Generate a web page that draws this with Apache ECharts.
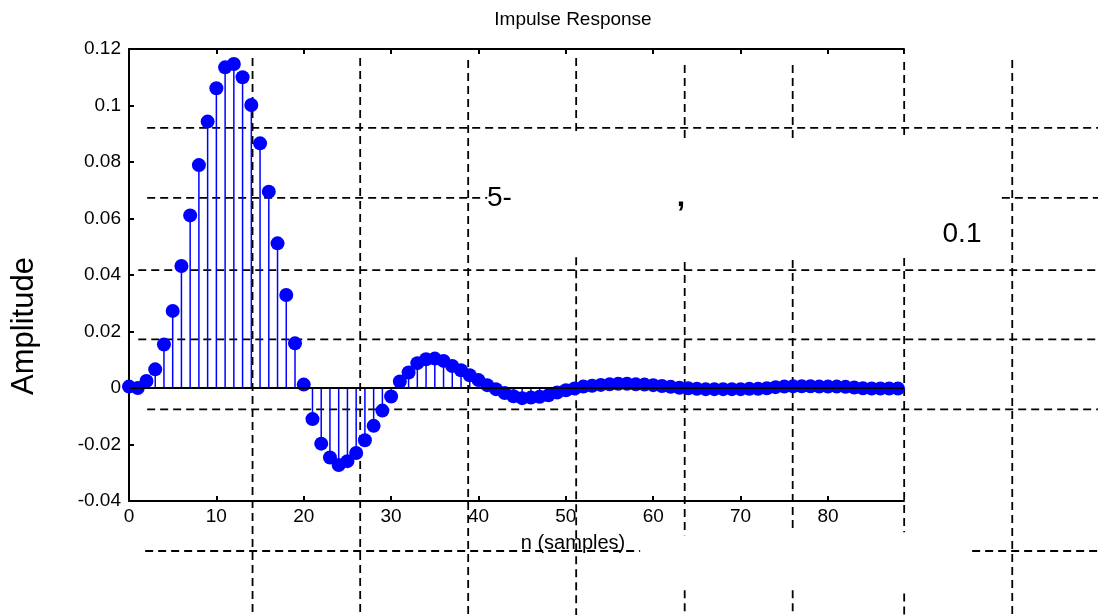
<!DOCTYPE html>
<html>
<head>
<meta charset="utf-8">
<script src="https://cdn.jsdelivr.net/npm/echarts@6/dist/echarts.min.js"></script>
<style>
html, body { margin: 0; padding: 0; background: #fff; }
#main { width: 1098px; height: 615px; }
</style>
</head>
<body>
<div id="main"></div>
<script>
// impulse response samples, n = 0..88
const amplitude = [
  0.0005, 0.0000, 0.0025, 0.0066, 0.0154, 0.0273, 0.0432, 0.0611, 0.0789, 0.0943,
  0.1061, 0.1135, 0.1147, 0.1100, 0.1002, 0.0866, 0.0695, 0.0512, 0.0329, 0.0158,
  0.0012, -0.0110, -0.0197, -0.0246, -0.0273, -0.0259, -0.0230, -0.0185, -0.0134, -0.0080,
  -0.0030, 0.0023, 0.0055, 0.0088, 0.0102, 0.0104, 0.0096, 0.0078, 0.0063, 0.0045,
  0.0028, 0.0010, -0.0004, -0.0018, -0.0029, -0.0036, -0.0034, -0.0031, -0.0026, -0.0016,
  -0.0008, -0.0002, 0.0005, 0.0008, 0.0011, 0.0013, 0.0015, 0.0015, 0.0013, 0.0012,
  0.0010, 0.0007, 0.0004, 0.0001, -0.0001, -0.0003, -0.0004, -0.0004, -0.0004, -0.0004,
  -0.0004, -0.0003, -0.0003, -0.0001, 0.0003, 0.0005, 0.0006, 0.0006, 0.0006, 0.0005,
  0.0005, 0.0005, 0.0004, 0.0002, -0.0001, -0.0002, -0.0002, -0.0002, -0.0002
]
const xTickLabels = ['0', '10', '20', '30', '40', '50', '60', '70', '80']
const yTickLabels = ['-0.04', '-0.02', '0', '0.02', '0.04', '0.06', '0.08', '0.1', '0.12']

// stray dashed grid, in the plot's own units
// vertical: [x, [yFrom, yTo], ...]
const vDashes = [
  [14.14, [0.1168, -0.085]],
  [26.46, [0.1168, -0.085]],
  [38.82, [0.1161, -0.085]],
  [51.18, [0.1168, 0.0895], [0.0463, -0.085]],
  [63.60, [0.1143, 0.0878], [0.0446, -0.0521], [-0.0716, -0.085]],
  [75.96, [0.1143, 0.0885], [0.0453, -0.0511], [-0.0716, -0.085]],
  [88.72, [0.1154, 0.0885], [0.0460, -0.0511], [-0.0727, -0.085]],
  [101.09, [0.1161, -0.085]]
]
// horizontal: [y, [xFrom, xTo], ...]
const hDashes = [
  [0.0921, [2.08, 112]],
  [0.0673, [2.08, 41.0], [99.9, 112]],
  [0.0417, [1.06, 112]],
  [0.0172, [1.06, 112]],
  [-0.0076, [2.08, 112]],
  [-0.0577, [1.85, 58.5], [96.5, 112]]
]

const xMax = 88.7
const yMin = -0.04
const yMax = 0.12
const W = 1098, H = 615
const gLeft = 129, gTop = 49, gW = 775, gH = 452

// an overlay grid over the whole page, scaled like the plot
const xPerPx = xMax / gW
const yPerPx = (yMax - yMin) / gH
const ovXMin = -gLeft * xPerPx
const ovXMax = (W - gLeft) * xPerPx
const ovYMax = yMax + gTop * yPerPx
const ovYMin = yMin - (H - gTop - gH) * yPerPx

const stems = amplitude.map((v, i) => [i, v])

let dashData = []
vDashes.forEach(row => {
  row.slice(1).forEach(seg => {
    dashData.push([row[0], seg[0]], [row[0], seg[1]], [row[0], '-'])
  })
})
hDashes.forEach(row => {
  row.slice(1).forEach(seg => {
    dashData.push([seg[0], row[0]], [seg[1], row[0]], ['-', row[0]])
  })
})

const font = 'Liberation Sans, Arial, sans-serif'
let myChart = echarts.init(document.getElementById('main'))
let option = {
  animation: false,
  backgroundColor: '#fff',
  grid: [
    { left: gLeft, top: gTop, width: gW, height: gH },
    { left: 0, top: 0, width: W, height: H }
  ],
  xAxis: [
    {
      type: 'value', min: 0, max: xMax, interval: 10, position: 'bottom', gridIndex: 0,
      axisLine: { show: true, onZero: false, lineStyle: { color: '#000', width: 2 } },
      axisTick: { show: true, inside: true, length: 5, lineStyle: { color: '#000', width: 2 } },
      axisLabel: {
        color: '#000', fontSize: 19, fontFamily: font, margin: 6, showMaxLabel: false,
        formatter: (v, i) => xTickLabels[i] || ''
      },
      splitLine: { show: false }
    },
    {
      type: 'value', min: 0, max: xMax, interval: 10, position: 'top', gridIndex: 0,
      axisLine: { show: true, onZero: false, lineStyle: { color: '#000', width: 2 } },
      axisTick: { show: true, inside: true, length: 5, lineStyle: { color: '#000', width: 2 } },
      axisLabel: { show: false },
      splitLine: { show: false }
    },
    {
      type: 'value', min: ovXMin, max: ovXMax, gridIndex: 1, show: false
    }
  ],
  yAxis: [
    {
      type: 'value', min: yMin, max: yMax, interval: 0.02, gridIndex: 0,
      axisLine: { show: true, onZero: false, lineStyle: { color: '#000', width: 2 } },
      axisTick: { show: true, inside: true, length: 5, lineStyle: { color: '#000', width: 2 } },
      axisLabel: {
        color: '#000', fontSize: 19, fontFamily: font, margin: 8,
        formatter: (v, i) => yTickLabels[i]
      },
      splitLine: { show: false }
    },
    {
      type: 'value', min: ovYMin, max: ovYMax, gridIndex: 1, show: false
    }
  ],
  series: [
    {
      name: 'grid dashes',
      type: 'line',
      xAxisIndex: 2,
      yAxisIndex: 1,
      data: dashData,
      showSymbol: false,
      symbol: 'none',
      connectNulls: false,
      silent: true,
      z: 1,
      lineStyle: { color: '#000', width: 1.8, type: [8, 5] }
    },
    {
      name: 'stem',
      type: 'bar',
      data: stems,
      barWidth: 1.5,
      itemStyle: { color: '#0000ff' },
      z: 2
    },
    {
      name: 'marker',
      type: 'scatter',
      data: stems,
      symbol: 'circle',
      symbolSize: 14,
      itemStyle: { color: '#0000ff', opacity: 1 },
      z: 3
    },
    {
      name: 'baseline',
      type: 'line',
      data: [[0, 0], [xMax, 0]],
      showSymbol: false,
      symbol: 'none',
      silent: true,
      z: 4,
      lineStyle: { color: '#000', width: 2 }
    }
  ],
  graphic: [
    { type: 'text', x: 573, y: 20, z: 10,
      style: { text: 'Impulse Response', font: '19px ' + font, fill: '#000', align: 'center', verticalAlign: 'middle', textAlign: 'center', textVerticalAlign: 'middle' } },
    { type: 'text', x: 573, y: 543, z: 10,
      style: { text: 'n (samples)', font: '20px ' + font, fill: '#000', align: 'center', verticalAlign: 'middle', textAlign: 'center', textVerticalAlign: 'middle' } },
    { type: 'text', x: 24, y: 326, rotation: Math.PI / 2, z: 10,
      style: { text: 'Amplitude', font: '31px ' + font, fill: '#000', align: 'center', verticalAlign: 'middle', textAlign: 'center', textVerticalAlign: 'middle' } },
    { type: 'text', x: 487, y: 198, z: 10,
      style: { text: '5-', font: '28px ' + font, fill: '#000', align: 'left', verticalAlign: 'middle', textAlign: 'left', textVerticalAlign: 'middle' } },
    { type: 'text', x: 681, y: 198, z: 10,
      style: { text: ',', font: 'bold 30px ' + font, fill: '#000', align: 'center', verticalAlign: 'middle', textAlign: 'center', textVerticalAlign: 'middle' } },
    { type: 'text', x: 962, y: 234, z: 10,
      style: { text: '0.1', font: '28px ' + font, fill: '#000', align: 'center', verticalAlign: 'middle', textAlign: 'center', textVerticalAlign: 'middle' } }
  ]
}
myChart.setOption(option)
</script>
</body>
</html>
